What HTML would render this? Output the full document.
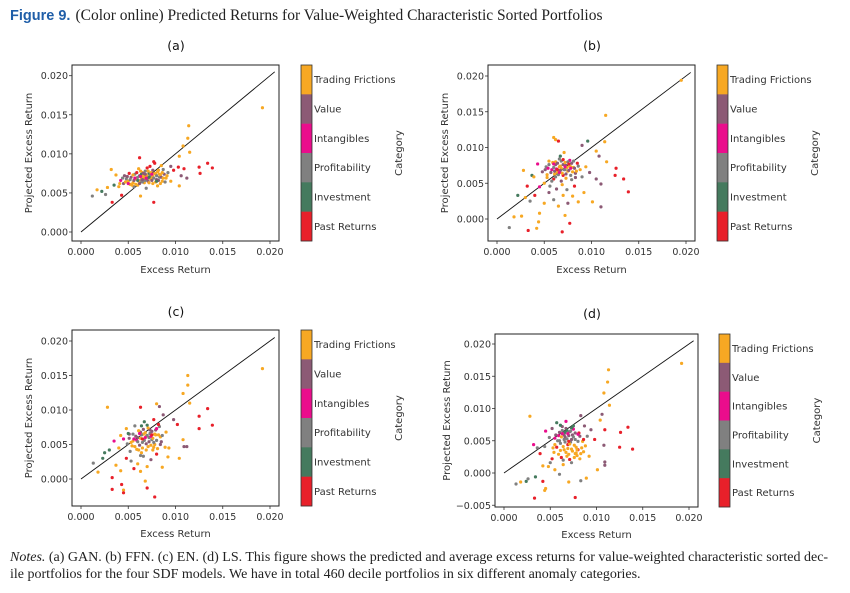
<!DOCTYPE html>
<html><head><meta charset="utf-8"><style>
html,body{margin:0;padding:0;background:#fff;}
body{width:850px;height:593px;overflow:hidden;position:relative;}
svg{position:absolute;left:0;top:0;}
.tk{font-family:"DejaVu Sans","Liberation Sans",sans-serif;font-size:9.5px;fill:#333;}
.lb{font-family:"DejaVu Sans","Liberation Sans",sans-serif;font-size:10px;fill:#333;}
.ti{font-family:"DejaVu Sans","Liberation Sans",sans-serif;font-size:12.5px;fill:#111;}
.cap{font-family:"Liberation Serif",serif;font-size:15.5px;fill:#222;}
.note{font-family:"Liberation Serif",serif;font-size:14px;fill:#222;}
</style></head><body>
<svg id="chart" width="850" height="593">
<text x="10" y="20"><tspan font-family="Liberation Sans,sans-serif" font-weight="bold" font-size="14.5" fill="#1f5ea8">Figure 9.</tspan><tspan class="cap" dx="5">(Color online) Predicted Returns for Value-Weighted Characteristic Sorted Portfolios</tspan></text>
<text class="note" x="10" y="561"><tspan font-style="italic">Notes.</tspan> (a) GAN. (b) FFN. (c) EN. (d) LS. This figure shows the predicted and average excess returns for value-weighted characteristic sorted dec-</text>
<text class="note" x="10" y="578">ile portfolios for the four SDF models. We have in total 460 decile portfolios in six different anomaly categories.</text>
</svg>
<script>
const categories = ["Trading Frictions","Value","Intangibles","Profitability","Investment","Past Returns"];
const catColors = ["#f7a823","#8c5a75","#ea0d8c","#808080","#457a5e","#e8202a"];
const xTicks = [0,0.005,0.010,0.015,0.020];
const xTickLabels = ["0.000","0.005","0.010","0.015","0.020"];
const yTicksA = [0,0.005,0.010,0.015,0.020];
const yTickLabelsA = ["0.000","0.005","0.010","0.015","0.020"];
const yTicksD = [-0.005,0,0.005,0.010,0.015,0.020];
const yTickLabelsD = ["\u22120.005","0.000","0.005","0.010","0.015","0.020"];
// points: [excess return, projected, category] in units of 1e-3
const pointsA = [[19.2,15.9,0],[11.4,13.6,0],[11.3,12,0],[10.8,11,0],[11.5,10.2,0],[10.4,9.7,0],[13.4,8.8,5],[12.5,8.3,5],[13.9,8.2,5],[12.6,7.5,5],[3.2,8,0],[1.2,4.6,3],[2.2,5.2,4],[1.7,5.4,0],[2.6,4.8,3],[3.3,3.8,5],[7.7,3.8,5],[3.7,7.3,0],[6.2,9.5,5],[4.3,4.7,5],[6.3,4.6,0],[10.4,5.9,0],[11.2,6.9,1],[10.6,7.2,1],[10.9,8.1,5],[10.3,8.3,5],[9.5,8.4,1],[2.8,5.7,0],[3.5,6,4],[4,5.8,0],[4.5,6.2,1],[4.8,6.8,3],[5,6.5,0],[5.3,7,1],[5.5,6.3,0],[5.7,7.4,3],[5.9,6.9,2],[6,6,0],[6.2,7.2,1],[6.3,6.6,3],[6.5,7.6,0],[6.6,6.9,5],[6.7,6.3,0],[6.8,7.8,3],[7,7.1,0],[7.1,6.5,1],[7.2,7.5,4],[7.3,8.4,5],[7.4,6.8,0],[7.5,7.2,3],[7.6,6.2,0],[7.8,8.8,5],[7.9,7.4,0],[8,6.7,1],[8.2,7.9,0],[8.3,7,3],[8.5,8.5,0],[8.6,6.5,0],[8.8,7.4,1],[9,6.9,0],[9.2,7.6,3],[9.5,6.5,0],[4.2,6.6,2],[5.1,7.5,5],[5.6,5.8,3],[6.1,8.1,0],[6.9,5.6,3],[7.7,9,5],[8.1,5.9,0],[8.7,8,3],[4.6,7.2,1],[5.4,6,0],[6.4,7.4,4],[7,8.2,5],[7.6,7.9,1],[9.8,7.9,5],[5.8,6.8,0],[6.6,7.2,0],[7.3,6.9,0],[8.4,7.3,0],
[4.1,6.2,0],[4.4,6.9,3],[4.7,6.4,0],[4.9,7.1,1],[5.2,6.7,3],[5.2,6.1,0],[5.5,7.3,0],[5.6,6.6,1],[5.8,6.1,0],[5.9,7.6,5],[6,7,3],[6.1,6.5,0],[6.2,6.2,1],[6.3,7.8,0],[6.4,6.9,0],[6.5,6.4,3],[6.6,7.5,1],[6.7,7,0],[6.8,6.6,3],[6.9,7.3,0],[7,6.8,1],[7.1,7.8,0],[7.2,6.3,0],[7.3,7.2,3],[7.4,7.6,0],[7.5,6.6,1],[7.6,7.1,0],[7.7,6.9,3],[7.8,7.5,0],[7.9,6.4,0],[8,7.2,3],[8.1,7.7,0],[8.2,6.6,1],[8.3,7.4,0],[8.4,6.2,0],[8.5,7,1],[8.6,7.6,0],[8.7,6.9,0],[8.9,6.4,3],[9.1,7.2,0],[5,6.2,2],[5.7,6.9,2],[6.3,7.1,2],[6.9,6.9,2],[7.5,7.4,2],[6,6.6,4],[7.2,7,4],[8,6.5,4],[6.8,7.4,1],[6.5,6.7,1]];
const pointsB = [[19.5,19.4,0],[11.5,14.5,0],[11.4,10.8,0],[11.6,8,0],[12.5,6.1,5],[12.6,7.1,5],[13.4,5.6,5],[13.9,3.8,5],[10.5,9.5,0],[10.8,8.8,1],[9,10.3,1],[9.6,10.9,4],[6,11.4,0],[6.2,11.1,0],[6.5,10.9,5],[2.8,6.8,0],[1.3,-1.2,3],[1.8,0.3,0],[2.6,0.4,0],[3.3,-1.6,5],[4.5,0.8,0],[4.4,-0.4,0],[4.2,-1.3,0],[6.9,-1.8,5],[7.7,-0.6,5],[7.2,0.5,0],[2.2,3.3,4],[3,3,0],[3.5,2.5,3],[4,3.3,5],[4.5,4.5,2],[5,2.2,0],[5.5,3.7,1],[6,2.7,3],[6.5,1.8,0],[7,3.3,0],[7.5,2.2,1],[8,3.2,0],[8.6,2.4,0],[9.2,3.7,0],[10.1,2.4,0],[11,1.7,1],[11,4.9,1],[10.5,5.6,1],[3.7,6.1,4],[4.3,7.7,2],[4.8,6.6,1],[5.2,7.3,3],[5.5,8.1,0],[5.8,6.9,2],[6,5.6,5],[6.2,7.6,1],[6.4,6.5,0],[6.6,8.4,3],[6.8,7.1,0],[7,6.1,5],[7.1,9.3,0],[7.3,7.5,1],[7.5,6.7,0],[7.7,8.2,2],[7.9,5.5,3],[8.1,7.2,0],[8.3,6.4,1],[8.5,7.8,5],[8.8,6.9,0],[9,5.9,3],[9.4,7.3,0],[9.8,6.5,1],[5,5,0],[5.6,4.6,3],[6.3,4.2,1],[6.9,4.8,0],[7.4,4.1,3],[8.2,4.6,5],[3.2,4.6,5],[3.9,5.9,0],[6.1,6.3,0],[6.7,7.4,0],[7.2,6.9,3],[7.8,7.3,0],
[5.1,6.9,1],[5.3,6.2,0],[5.5,7.6,3],[5.7,6.5,1],[5.9,7.9,0],[6,7.2,3],[6.1,6.7,1],[6.2,8,0],[6.3,7,2],[6.4,7.8,1],[6.5,6.2,3],[6.6,7.3,0],[6.7,6.8,1],[6.8,8.1,3],[6.9,6.4,0],[7,7.6,1],[7.1,6.9,3],[7.2,7.9,0],[7.3,6.3,1],[7.4,7.2,0],[7.5,8,3],[7.6,6.8,1],[7.7,7.4,0],[7.8,6.1,3],[7.9,7.8,1],[8,6.6,0],[8.1,8.1,3],[8.2,7.1,1],[8.4,6.7,0],[8.6,7.4,3],[5.4,7.1,2],[6,7.7,2],[6.6,6.5,2],[7.2,7.3,2],[7.8,7.1,2],[6.4,6.9,5],[7,8.3,5],[7.6,7.7,5],[6.2,5.9,3],[6.8,5.3,1],[7.3,5.7,0],[5.8,5.3,3],[8.3,5.8,1],[6.7,8.8,4],[5.3,5.8,0]];
const pointsC = [[19.2,16,0],[11.3,15,0],[11.3,13.6,0],[10.8,12.4,0],[11.5,11,0],[13.4,10.2,5],[12.5,9.1,5],[13.9,7.8,5],[12.5,7.3,5],[10.9,4.7,1],[11.2,4.7,1],[10.8,5.7,0],[10.4,3,0],[2.8,10.4,0],[6.3,10.4,5],[8,10.9,0],[8.3,10.5,1],[1.3,2.3,3],[1.8,1,0],[2.5,3.8,4],[3.3,0.2,5],[3.3,-1.5,5],[4.3,-0.8,5],[4.5,-1.6,0],[4.5,-2,5],[6.8,-0.3,0],[7,-1.3,5],[7.8,-2.6,5],[3.7,2,0],[4.2,1.2,0],[4.8,3,5],[5.3,2.6,3],[5.6,1.5,5],[6,2.2,0],[6.3,1.1,0],[6.6,3.3,3],[7,1.8,0],[7.4,2.8,1],[8,3.6,5],[8.6,1.7,0],[9.2,3.2,0],[2.3,3,4],[3,4.2,4],[3.5,5.5,2],[4,4.5,0],[4.5,5.8,2],[4.8,7.3,0],[5.1,6.5,1],[5.4,4.8,0],[5.7,7.7,3],[5.9,5.6,2],[6.1,4.2,0],[6.3,6.8,1],[6.5,5.3,3],[6.7,8.3,4],[6.9,6.2,0],[7.1,4.7,0],[7.3,7.1,1],[7.5,5.7,3],[7.7,8.6,5],[7.9,6.4,0],[8.1,4.4,0],[8.3,7.6,3],[8.5,5.4,1],[8.7,9.3,1],[9,6.8,0],[9.3,4.5,0],[9.8,8.6,1],[10.2,7.9,5],[5.5,5.5,0],[6,6,1],[6.6,6.5,0],[7.2,6,3],[7.8,5,0],[8.4,6.1,0],[4.2,6.3,0],[5.2,4,3],[6.4,3.8,0],[7.6,4.2,0],[8.9,4.6,0],
[4.9,5.1,3],[5.1,5.9,1],[5.3,5.3,0],[5.5,6.5,3],[5.7,4.7,0],[5.8,6.2,1],[6,5.4,3],[6.1,7,0],[6.2,4.9,1],[6.3,5.9,0],[6.4,6.4,3],[6.5,4.5,0],[6.6,7.2,1],[6.7,5.6,3],[6.8,6.7,0],[6.9,5.1,1],[7,6.3,3],[7.1,7.4,0],[7.2,5.4,1],[7.3,6.6,3],[7.4,4.9,0],[7.5,6.9,1],[7.6,5.9,0],[7.7,5.3,3],[7.8,6.5,0],[7.9,7.1,1],[8,5.6,3],[8.2,6.4,0],[8.4,5,1],[8.6,6.3,3],[5.6,5.8,2],[6.2,6.6,2],[6.8,6,2],[7.4,6.2,2],[8,7.3,2],[5,6.6,4],[6.4,7.7,4],[7,7.8,4],[6.5,5.8,5],[7.5,6.4,5],[8.2,7.9,5],[5.9,4.3,0],[6.9,4.2,0],[7.7,4.6,0],[6.3,3.4,3]];
const pointsD = [[19.2,17,0],[11.3,16,0],[11.2,14.1,0],[10.8,12.4,0],[11.4,10.5,0],[10.6,9.1,1],[10.4,8.2,0],[13.4,7.1,5],[12.6,6.3,5],[13.9,3.7,5],[12.5,4,5],[10.9,6.7,5],[10.8,4.3,1],[10.9,1.7,1],[10.9,1.2,1],[10.1,0.5,0],[2.8,8.8,0],[1.3,-1.7,3],[1.8,-1.4,0],[2.4,-1.3,4],[2.6,-0.9,3],[3.3,-3.9,5],[3.4,-0.6,4],[4.2,-1.3,5],[4.4,-2.7,0],[4.5,-2.4,0],[7,-1.4,0],[7.7,-3.8,5],[8.3,-1.2,3],[8.9,-0.8,0],[3.2,4.4,2],[3.6,3.9,3],[3.9,3,5],[4.2,1.1,0],[4.8,1,0],[5.2,2.2,5],[5.5,0.5,0],[6,-0.2,3],[6.4,1.3,0],[6.8,2.6,0],[7.3,1.6,3],[7.7,3,0],[8.2,2.2,0],[8.6,3.3,0],[9.2,2.6,0],[4.5,6.5,2],[4.9,5.5,3],[5.2,6.9,1],[5.5,4.4,0],[5.7,7.8,4],[5.9,5.8,2],[6.1,3.5,0],[6.3,7.2,1],[6.5,5.2,3],[6.7,8,2],[6.9,4.4,5],[7.1,6.4,1],[7.3,3.7,0],[7.5,7.3,4],[7.7,5.2,3],[7.9,2.7,0],[8.1,6.2,5],[8.3,8.9,1],[8.5,4.9,0],[8.7,7.3,1],[9,5.7,3],[9.4,6.7,1],[9.8,5.2,5],[6,5,3],[6.6,5.6,1],[7.2,4.8,3],[7.8,4,0],[5.4,3.2,0],[6.2,2.4,5],[7,2.9,0],[8,3.6,5],[4.4,4.1,3],[5,1.6,3],[6.6,6.3,4],[7.4,5.9,1],
[5.6,5.9,1],[5.8,5,3],[6,6.3,1],[6.1,4.6,3],[6.2,5.6,0],[6.3,6.6,3],[6.4,4.1,0],[6.5,5.9,1],[6.6,4.8,3],[6.7,6.9,1],[6.8,5.3,3],[6.9,3.8,0],[7,5.8,1],[7.1,4.5,0],[7.2,6.5,3],[7.3,5.2,1],[7.4,3.4,0],[7.5,5.6,3],[7.6,4.3,0],[7.7,6.2,1],[7.8,3.1,0],[8,4.9,3],[8.2,5.7,1],[8.4,3.9,0],[8.6,5.2,5],[5.5,5.4,2],[6.3,6.1,2],[6.9,6.1,2],[7.5,6.8,2],[8,6,2],[6.1,7.4,4],[6.8,6.6,4],[7.3,7,4],[5.9,2.9,0],[6.7,3.2,0],[7.6,2.4,0],[8.3,3,0],[6.4,2,3],[5.7,4,5],[7.1,2.1,5],[6.5,3.6,0],[7.9,3.6,0],[5.3,3.9,0],[8.8,4.2,0],[7,4.9,5]];

const NS = "http://www.w3.org/2000/svg";
const svg = document.getElementById("chart");
function mk(tag, attrs, parent){const e=document.createElementNS(NS,tag);for(const k in attrs)e.setAttribute(k,attrs[k]);(parent||svg).appendChild(e);return e;}

const panels = [
 {id:"a", pts:pointsA, box:[72,65,279,241], x0:81, x20:270, y0:232, y20:75.7, yt:yTicksA, ytl:yTickLabelsA, cb:[301,65,312,241], title:[176,50], ylx:32, xly:273, cat:402},
 {id:"b", pts:pointsB, box:[488,65,695,241], x0:497, x20:686, y0:219, y20:76, yt:yTicksA, ytl:yTickLabelsA, cb:[717,65,728,241], title:[592,50], ylx:448, xly:273, cat:818},
 {id:"c", pts:pointsC, box:[72,330,279,506], x0:81, x20:270, y0:479, y20:341, yt:yTicksA, ytl:yTickLabelsA, cb:[301,330,312,506], title:[176,316], ylx:32, xly:537, cat:402},
 {id:"d", pts:pointsD, box:[495,334,698,507], x0:504, x20:689, y0:473, y20:344, yt:yTicksD, ytl:yTickLabelsD, cb:[719,334,730,507], title:[592,318], ylx:450, xly:538, cat:820}
];

panels.forEach(p=>{
  const g = mk("g",{});
  
  
  const sx = v => p.x0 + (v/0.02)*(p.x20-p.x0);
  const sy = v => p.y0 + (v/0.02)*(p.y20-p.y0);
  const [L,T,R,B] = p.box;
  const t = mk("text",{x:p.title[0],y:p.title[1],"text-anchor":"middle",class:"ti"},g); t.textContent="("+p.id+")";
  
  
  xTicks.forEach((v,i)=>{
    mk("line",{x1:sx(v),x2:sx(v),y1:B,y2:B+3,stroke:"#333","stroke-width":0.8},g);
    const tl=mk("text",{x:sx(v),y:B+14,"text-anchor":"middle",class:"tk"},g); tl.textContent=xTickLabels[i];
    
    
  });
  p.yt.forEach((v,i)=>{
    mk("line",{x1:L-3,x2:L,y1:sy(v),y2:sy(v),stroke:"#333","stroke-width":0.8},g);
    const tl=mk("text",{x:L-4,y:sy(v)+3.5,"text-anchor":"end",class:"tk"},g); tl.textContent=p.ytl[i];
    
    
  });
  const xl=mk("text",{x:(L+R)/2,y:p.xly,"text-anchor":"middle",class:"lb"},g); xl.textContent="Excess Return";
  
  
  const yl=mk("text",{x:p.ylx,y:(T+B)/2,"text-anchor":"middle",class:"lb",transform:`rotate(-90 ${p.ylx} ${(T+B)/2})`},g); yl.textContent="Projected Excess Return";
  
  
  const dl=mk("line",{x1:sx(0),y1:sy(0),x2:sx(0.0205),y2:sy(0.0205),stroke:"#111","stroke-width":0.9},g);
  
  
  p.pts.forEach(d=>{
    const c=mk("circle",{cx:sx(d[0]/1000),cy:sy(d[1]/1000),r:1.6,fill:catColors[d[2]]},g);
    
    
  });
  const fr=mk("rect",{x:L,y:T,width:R-L,height:B-T,fill:"none",stroke:"#222","stroke-width":1},g);
  
  
  const [cl,ct,cr,cb] = p.cb; const h=(cb-ct)/6;
  categories.forEach((name,i)=>{
    const r=mk("rect",{x:cl,y:ct+i*h,width:cr-cl,height:h+0.3,fill:catColors[i]},g);
    
    
    const tx=mk("text",{x:cr+2,y:ct+i*h+h/2+3.5,class:"lb"},g); tx.textContent=name;
    
    
  });
  mk("rect",{x:cl,y:ct,width:cr-cl,height:cb-ct,fill:"none",stroke:"#333","stroke-width":0.8},g);
  const ctl=mk("text",{x:p.cat,y:(ct+cb)/2,"text-anchor":"middle",class:"lb",transform:`rotate(-90 ${p.cat} ${(ct+cb)/2})`},g); ctl.textContent="Category";
  
  
});
</script>
</body></html>
